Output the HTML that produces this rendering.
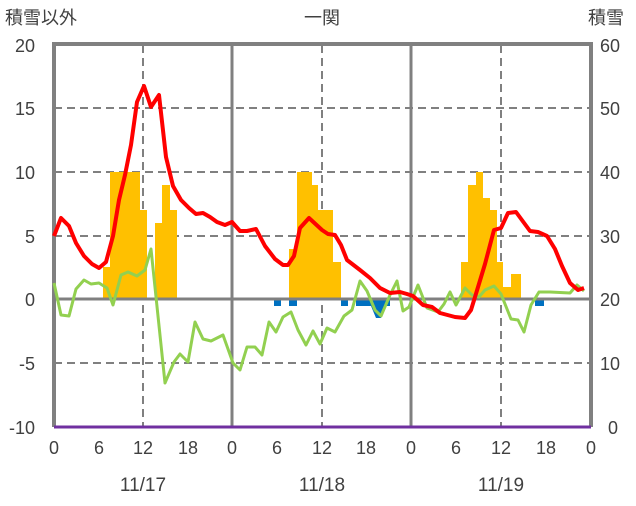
<!DOCTYPE html>
<html><head><meta charset="utf-8"><style>
body{margin:0;background:#fff}
svg text{font-family:"Liberation Sans","Noto Sans CJK JP",sans-serif;fill:#404040;font-size:18px}
</style></head><body>
<svg width="636" height="501" xmlns="http://www.w3.org/2000/svg">
<g stroke="#808080" stroke-width="2" stroke-dasharray="8,5">
<line x1="54" y1="108" x2="591" y2="108"/>
<line x1="54" y1="172" x2="591" y2="172"/><line x1="54" y1="236" x2="591" y2="236"/>
<line x1="54" y1="363" x2="591" y2="363"/>
<line x1="143" y1="45" x2="143" y2="427"/><line x1="322" y1="45" x2="322" y2="427"/><line x1="501" y1="45" x2="501" y2="427"/>
</g>
<g fill="#FFC000">
<rect x="103" y="267" width="7" height="32"/><rect x="110" y="172" width="30" height="127"/><rect x="140" y="210" width="7" height="89"/>
<rect x="155" y="223" width="7" height="76"/><rect x="162" y="185" width="8" height="114"/><rect x="170" y="210" width="7" height="89"/>
<rect x="289" y="249" width="8" height="50"/><rect x="297" y="172" width="15" height="127"/><rect x="312" y="185" width="6" height="114"/><rect x="318" y="210" width="15" height="89"/><rect x="333" y="262" width="8" height="37"/>
<rect x="461" y="262" width="7" height="37"/><rect x="468" y="185" width="8" height="114"/><rect x="476" y="172" width="7" height="127"/><rect x="483" y="198" width="7" height="101"/><rect x="490" y="210" width="7" height="89"/><rect x="497" y="262" width="6" height="37"/><rect x="503" y="287" width="8" height="12"/><rect x="511" y="274" width="10" height="25"/>
</g>
<g fill="#0070C0">
<rect x="274" y="299" width="7" height="7"/><rect x="289" y="299" width="8" height="7"/><rect x="341" y="299" width="7" height="7"/>
<rect x="356" y="299" width="34" height="7"/><polygon points="371,306 386,306 381,318 376,318"/>
<rect x="535" y="299" width="9" height="7"/>
</g>
<g stroke="#808080" stroke-width="3">
<line x1="54" y1="299" x2="591" y2="299"/>
<line x1="52" y1="44" x2="591" y2="44" stroke-width="4"/>
<line x1="54" y1="42" x2="54" y2="427" stroke-width="4"/><line x1="232" y1="43" x2="232" y2="427"/><line x1="411" y1="43" x2="411" y2="427"/><line x1="591" y1="42" x2="591" y2="427" stroke-width="4"/>
</g>
<line x1="54" y1="427" x2="591" y2="427" stroke="#7030A0" stroke-width="3"/>
<polyline fill="none" stroke="#92D050" stroke-width="3" stroke-linejoin="round" points="54,283 61,315 69,316 76,289 84,280 91,284 99,283 107,288 113,305 121,275 128,272 137,276 145,270 151,249 165,383 174,362 180,354 188,362 195,322 203,339 211,341 223,335 233,363 240,370 247,347 255,347 262,355 269,322 276,332 283,317 291,312 298,330 306,345 313,331 320,344 327,328 335,332 344,316 352,310 360,281 367,291 375,310 381,316 390,295 397,281 403,311 409,307 418,285 427,308 438,312 444,304 450,292 456,305 465,288 472,295 479,297 485,290 494,286 501,294 511,319 518,320 524,332 531,305 539,292 550,292 570,293 577,285 584,291"/>
<polyline fill="none" stroke="#FF0000" stroke-width="4" stroke-linejoin="round" points="54,236 61,218 69,226 76,243 84,256 92,264 99,268 106,262 113,236 119,200 125,175 131,145 137,102 144,86 151,107 159,95 166,157 173,186 181,200 189,208 196,214 203,213 210,217 217,222 225,225 232,222 240,231 247,231 256,229 265,246 275,259 283,265 288,265 294,256 300,228 309,218 322,230 328,234 335,235 341,245 347,260 360,270 370,278 380,288 390,293 400,292 407,294 413,296 423,305 432,307 440,313 455,317 465,318 471,310 475,297 485,264 494,230 501,228 508,213 516,212 530,231 538,232 547,236 555,249 562,266 570,283 578,290 584,288"/>
<g text-anchor="end">
<text x="35" y="52">20</text><text x="35" y="115">15</text><text x="35" y="179">10</text><text x="35" y="243">5</text><text x="35" y="306">0</text><text x="35" y="370">-5</text><text x="35" y="434">-10</text>
</g>
<g text-anchor="start">
<text x="600" y="52">60</text><text x="600" y="115">50</text><text x="600" y="179">40</text><text x="600" y="243">30</text><text x="600" y="306">20</text><text x="600" y="370">10</text><text x="608" y="434">0</text>
</g>
<g text-anchor="middle">
<text x="54" y="454">0</text><text x="99" y="454">6</text><text x="143" y="454">12</text><text x="188" y="454">18</text><text x="232" y="454">0</text><text x="277" y="454">6</text><text x="322" y="454">12</text><text x="366" y="454">18</text><text x="411" y="454">0</text><text x="456" y="454">6</text><text x="501" y="454">12</text><text x="546" y="454">18</text><text x="591" y="454">0</text>
<text x="143" y="491" style="font-size:19px">11/17</text><text x="322" y="491" style="font-size:19px">11/18</text><text x="501" y="491" style="font-size:19px">11/19</text>
<text x="322" y="24">一関</text>
</g>
<text x="5" y="24">積雪以外</text>
<text x="588" y="24">積雪</text>
</svg>
</body></html>
